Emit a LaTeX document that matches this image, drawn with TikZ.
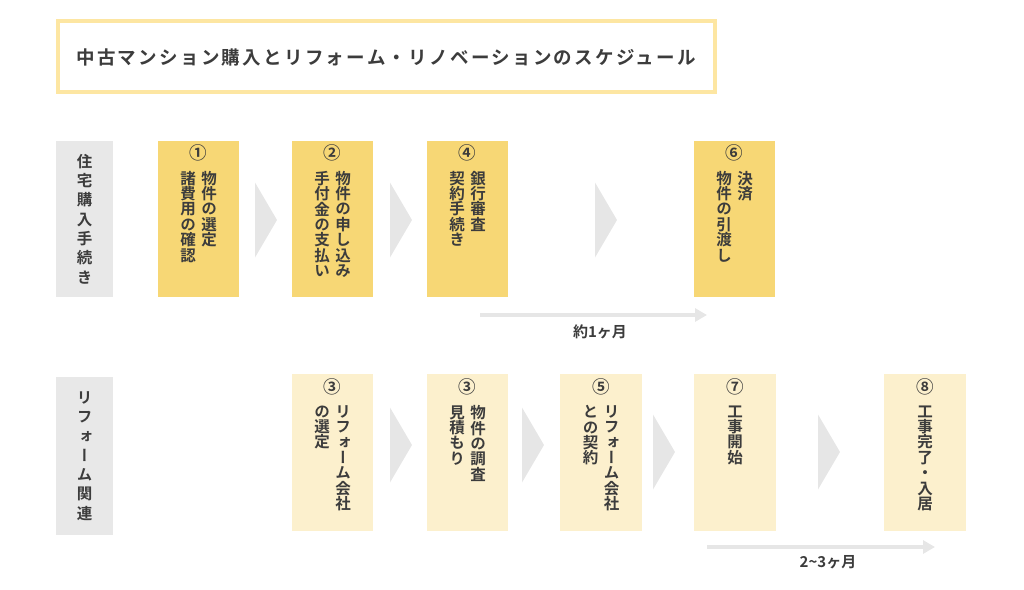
\documentclass[tikz,border=0pt]{standalone}
\usepackage{fontspec}
\setmainfont{Noto Sans CJK JP}[BoldFont={Noto Sans CJK JP Bold}]
\newfontfamily\tatefont{Noto Sans CJK JP}[RawFeature=+vert, BoldFont={Noto Sans CJK JP Bold}]
\usetikzlibrary{arrows.meta, calc}
\definecolor{ink}{HTML}{3C3C3C}
\definecolor{gold}{HTML}{F7D775}
\definecolor{paleyel}{HTML}{FCF0CD}
\definecolor{lgray}{HTML}{E8E8E8}
\definecolor{chevgray}{HTML}{E6E6E6}
\definecolor{titleline}{HTML}{FDE6A2}

\tikzset{
  buybox/.style={fill=gold, minimum width=81pt, minimum height=156pt, inner sep=0pt},
  refbox/.style={fill=paleyel, minimum width=81pt, minimum height=157pt, inner sep=0pt},
  labbox/.style={fill=lgray, minimum width=57pt, minimum height=157pt, inner sep=0pt},
  col/.style={font={\tatefont\bfseries\fontsize{15.5pt}{15.4pt}\selectfont}, text=ink,
              align=center, inner sep=0pt, anchor=north},
  labcol/.style={font={\tatefont\bfseries\fontsize{15.5pt}{19.3pt}\selectfont}, text=ink,
                 align=center, inner sep=0pt},
  num/.style={font={\bfseries\fontsize{17.5pt}{17.5pt}\selectfont}, text=ink, inner sep=0pt},
  chev/.style={fill=chevgray},
  span/.style={chevgray, line width=4pt, -{Triangle[length=12pt, width=13pt]}},
  spantext/.style={font={\bfseries\fontsize{15pt}{15pt}\selectfont}, text=ink, inner sep=0pt}
}

\begin{document}
\begin{tikzpicture}[x=1pt, y=-1pt]
\useasboundingbox (0,0) rectangle (1024,589);

% Title
\node[draw=titleline, line width=4pt, minimum width=657pt, minimum height=71pt,
      inner sep=0pt] (tbox) at (386.5,56.5) {};
\node[anchor=west, inner sep=0pt, text=ink,
      font={\bfseries\fontsize{18.5pt}{18.5pt}\selectfont\addfontfeature{LetterSpace=12.5}}]
  (ttl) at (76,57) {中古マンション購入とリフォーム・リノベーションのスケジュール};

% Row labels
\node[labbox, minimum height=156pt] (lab1) at (84.5,219) {};
\node[labcol] (lab1t) at (lab1.center) {住\\宅\\購\\入\\手\\続\\き};
\node[labbox, minimum height=158pt] (lab2) at (84.5,456) {};
\node[labcol] (lab2t) at (lab2.center) {リ\\フ\\ォ\\ー\\ム\\関\\連};

% ── Purchase row ──
\node[buybox] (s1) at (198.5,219) {};
\node[buybox] (s2) at (332.5,219) {};
\node[buybox] (s4) at (467.5,219) {};
\node[buybox] (s6) at (734.5,219) {};

\node[num] (s1n) at ([yshift=-12.5pt]s1.north) {①};
\node[col] (s1a) at ([xshift=10.5pt, yshift=-30pt]s1.north) {物\\件\\の\\選\\定};
\node[col] (s1b) at ([xshift=-10.5pt, yshift=-30pt]s1.north) {諸\\費\\用\\の\\確\\認};

\node[num] (s2n) at ([yshift=-12.5pt]s2.north) {②};
\node[col] (s2a) at ([xshift=10.5pt, yshift=-30pt]s2.north) {物\\件\\の\\申\\し\\込\\み};
\node[col] (s2b) at ([xshift=-10.5pt, yshift=-30pt]s2.north) {手\\付\\金\\の\\支\\払\\い};

\node[num] (s4n) at ([yshift=-12.5pt]s4.north) {④};
\node[col] (s4a) at ([xshift=10.5pt, yshift=-30pt]s4.north) {銀\\行\\審\\査};
\node[col] (s4b) at ([xshift=-10.5pt, yshift=-30pt]s4.north) {契\\約\\手\\続\\き};

\node[num] (s6n) at ([yshift=-12.5pt]s6.north) {⑥};
\node[col] (s6a) at ([xshift=10.5pt, yshift=-30pt]s6.north) {決\\済};
\node[col] (s6b) at ([xshift=-10.5pt, yshift=-30pt]s6.north) {物\\件\\の\\引\\渡\\し};

% ── Reform row ──
\node[refbox] (r3a) at (332.5,452) {};
\node[refbox] (r3b) at (467.5,452) {};
\node[refbox, minimum width=82pt] (r5) at (601,452) {};
\node[refbox, minimum width=82pt] (r7) at (735,452) {};
\node[refbox, minimum width=82pt] (r8) at (925,452) {};

\node[num] (r3an) at ([yshift=-13.5pt]r3a.north) {③};
\node[col] (r3aa) at ([xshift=10.5pt, yshift=-32pt]r3a.north) {リ\\フ\\ォ\\ー\\ム\\会\\社};
\node[col] (r3ab) at ([xshift=-10.5pt, yshift=-32pt]r3a.north) {の\\選\\定};

\node[num] (r3bn) at ([yshift=-13.5pt]r3b.north) {③};
\node[col] (r3ba) at ([xshift=10.5pt, yshift=-32pt]r3b.north) {物\\件\\の\\調\\査};
\node[col] (r3bb) at ([xshift=-10.5pt, yshift=-32pt]r3b.north) {見\\積\\も\\り};

\node[num] (r5n) at ([yshift=-13.5pt]r5.north) {⑤};
\node[col] (r5a) at ([xshift=10.5pt, yshift=-32pt]r5.north) {リ\\フ\\ォ\\ー\\ム\\会\\社};
\node[col] (r5b) at ([xshift=-10.5pt, yshift=-32pt]r5.north) {と\\の\\契\\約};

\node[num] (r7n) at ([yshift=-13.5pt]r7.north) {⑦};
\node[col] (r7a) at ([yshift=-32pt]r7.north) {工\\事\\開\\始};

\node[num] (r8n) at ([yshift=-13.5pt]r8.north) {⑧};
\node[col] (r8a) at ([yshift=-32pt]r8.north) {工\\事\\完\\了\\・\\入\\居};

% Chevrons between steps
\foreach \x/\y in {255/220, 390/220, 595/220, 390/445, 522/445, 653/452, 818/452} {
  \fill[chev] (\x,{\y-37.5}) -- ({\x+22},\y) -- (\x,{\y+37.5}) -- cycle;
}

% Duration arrows
\coordinate (m1a) at (480,315);
\coordinate (m1b) at (707,315);
\draw[span] (m1a) -- (m1b);
\node[spantext] (m1t) at (600,332) {約1ヶ月};

\coordinate (m2a) at (707,547);
\coordinate (m2b) at (935,547);
\draw[span] (m2a) -- (m2b);
\node[spantext] (m2t) at (828,562) {2\textasciitilde3ヶ月};

\end{tikzpicture}
\end{document}
